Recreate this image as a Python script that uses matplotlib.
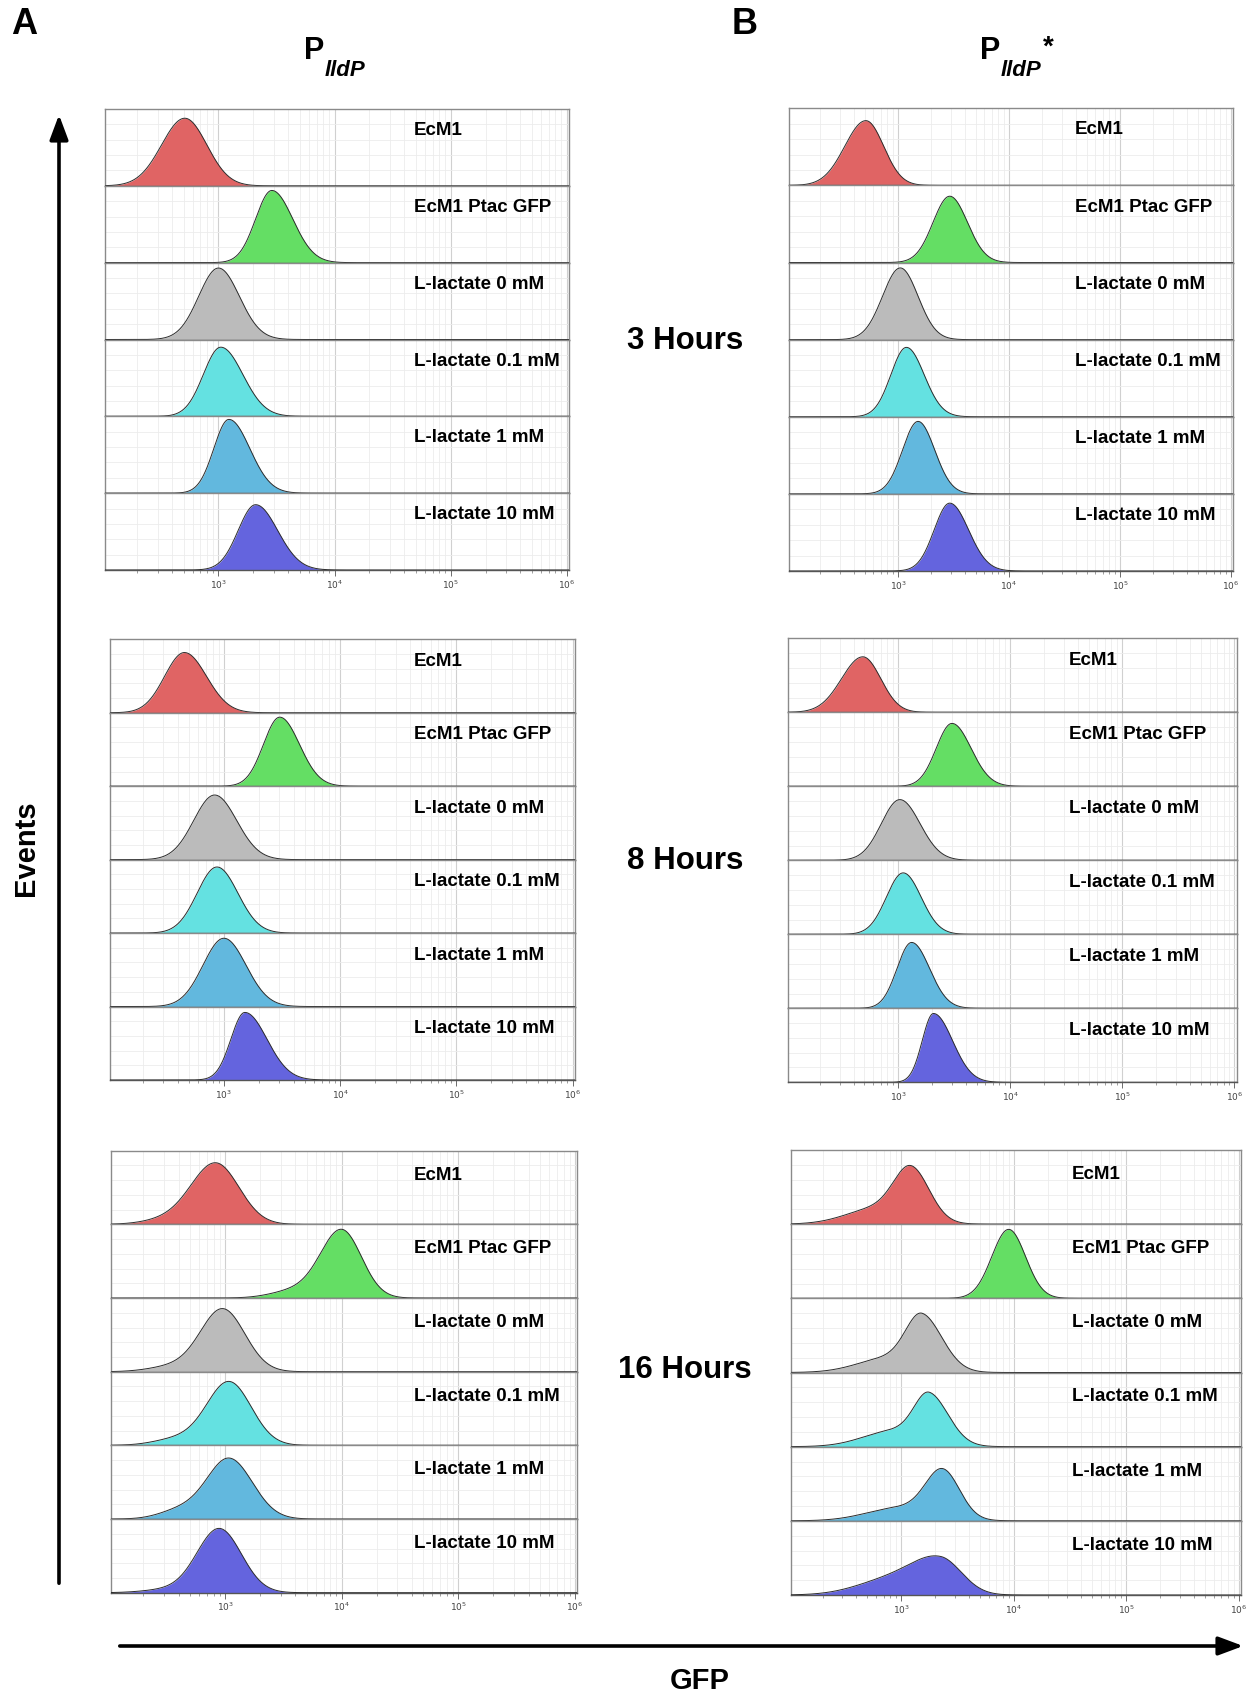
import numpy as np
import matplotlib
matplotlib.use("Agg")
import matplotlib.pyplot as plt
from matplotlib.patches import FancyArrowPatch
from matplotlib.ticker import LogLocator, NullFormatter, FixedLocator

plt.rcParams['font.family'] = ['Liberation Sans', 'DejaVu Sans']

# ---------------- data (log10 GFP) ----------------
strip_labels = ["EcM1", "EcM1 Ptac GFP", "L-lactate 0 mM",
                "L-lactate 0.1 mM", "L-lactate 1 mM", "L-lactate 10 mM"]
strip_colors = ["#e06464", "#64de64", "#bbbbbb", "#64e1e1", "#62b8de", "#6464de"]
time_labels = ["3 Hours", "8 Hours", "16 Hours"]
tick_decades = [3, 4, 5, 6]

# rows = 3 h, 8 h, 16 h ; columns = the six strains/conditions
peak_pos_A = [[2.71, 3.46, 3.00, 3.02, 3.09, 3.32],
              [2.66, 3.48, 2.92, 2.94, 3.00, 3.18],
              [2.92, 4.00, 2.98, 3.035, 3.035, 2.95]]
peak_pos_B = [[2.71, 3.465, 3.02, 3.075, 3.18, 3.465],
              [2.685, 3.48, 3.015, 3.045, 3.12, 3.315],
              [3.09, 3.955, 3.185, 3.25, 3.37, 3.35]]

spread_left_A = [[0.20, 0.14, 0.17, 0.15, 0.13, 0.15],
                 [0.17, 0.14, 0.18, 0.17, 0.18, 0.12],
                 [0.21, 0.18, 0.19, 0.19, 0.19, 0.19]]
spread_left_B = [[0.19, 0.15, 0.16, 0.14, 0.14, 0.14],
                 [0.19, 0.14, 0.165, 0.15, 0.13, 0.10],
                 [0.15, 0.15, 0.14, 0.13, 0.15, 0.25]]

spread_right_A = [[0.19, 0.18, 0.18, 0.19, 0.18, 0.19],
                  [0.19, 0.17, 0.19, 0.18, 0.19, 0.19],
                  [0.20, 0.17, 0.19, 0.19, 0.20, 0.19]]
spread_right_B = [[0.16, 0.16, 0.16, 0.16, 0.15, 0.17],
                  [0.16, 0.17, 0.18, 0.16, 0.16, 0.17],
                  [0.16, 0.15, 0.18, 0.17, 0.15, 0.19]]

peak_height_A = [[0.88, 0.94, 0.93, 0.90, 0.96, 0.85],
                 [0.82, 0.94, 0.88, 0.90, 0.93, 0.92],
                 [0.83, 0.92, 0.85, 0.86, 0.82, 0.87]]
peak_height_B = [[0.84, 0.86, 0.93, 0.90, 0.94, 0.88],
                 [0.75, 0.85, 0.82, 0.83, 0.89, 0.93],
                 [0.66, 0.93, 0.68, 0.61, 0.62, 0.455]]

# low-GFP shoulder (16 h populations): position, spread, height
shoulder_pos_A = [2.50, 3.60, 2.55, 2.60, 2.62, 2.50]
shoulder_sd_A = [0.20, 0.20, 0.20, 0.20, 0.18, 0.20]
shoulder_h_A = [0.06, 0.10, 0.07, 0.09, 0.12, 0.04]
shoulder_pos_B = [2.80, 3.75, 2.90, 2.95, 3.00, 2.90]
shoulder_sd_B = [0.28, 0.15, 0.28, 0.28, 0.30, 0.30]
shoulder_h_B = [0.22, 0.00, 0.20, 0.22, 0.18, 0.20]

# ---------------- layout (pixels: left, top, right, bottom) ----------------
W, H = 1247, 1695
boxes_A = [(104.7, 109, 569, 570), (110, 639.3, 575, 1080), (110.7, 1150.7, 577.3, 1592.7)]
boxes_B = [(789.3, 108.3, 1233.3, 571), (788.3, 638.3, 1236.7, 1082.3), (791, 1150, 1241, 1595)]
label_x_A = [0.666, 0.654, 0.650]
label_x_B = [0.643, 0.625, 0.624]
label_y = [0.72, 0.70, 0.67]
hour_y = [341, 861, 1370]
XLO, XHI = 2.02, 6.02

fig = plt.figure(figsize=(W / 100, H / 100), dpi=100)

lx = np.linspace(XLO, XHI, 1200)
xs = 10 ** lx


def histo(mu, sl, sr, h, smu, ssd, sh):
    s = np.where(lx < mu, sl, sr)
    y = h * np.exp(-0.5 * ((lx - mu) / s) ** 2)
    if sh > 0:
        y = y + sh * np.exp(-0.5 * ((lx - smu) / ssd) ** 2)
    return y


def draw_panel(box, pos, sl, sr, hh, spos, ssd, sh, lab_x, lab_y):
    left, top, right, bottom = box
    sh_px = (bottom - top) / 6
    for i in range(6):
        y_top = top + i * sh_px
        ax = fig.add_axes([left / W, 1 - (y_top + sh_px) / H, (right - left) / W, sh_px / H])
        ax.set_xscale('log')
        ax.set_xlim(10 ** XLO, 10 ** XHI)
        ax.set_ylim(0, 1)
        ax.set_axisbelow(True)
        ax.xaxis.set_major_locator(FixedLocator([10.0 ** k for k in range(2, 7)]))
        ax.xaxis.set_minor_locator(LogLocator(base=10, subs=np.arange(2, 10), numticks=20))
        ax.xaxis.set_minor_formatter(NullFormatter())
        ax.set_yticks([0.2, 0.4, 0.6, 0.8])
        ax.grid(which='major', axis='x', color='#d0d0d0', lw=0.8)
        ax.grid(which='minor', axis='x', color='#ececec', lw=0.6)
        ax.grid(which='major', axis='y', color='#ececec', lw=0.6)
        ax.tick_params(axis='y', left=False, labelleft=False)

        y = histo(pos[i], sl[i], sr[i], hh[i], spos[i], ssd[i], sh[i])
        ax.fill_between(xs, 0, y, color=strip_colors[i], lw=0, zorder=2)
        ax.plot(xs, y, color='#2b2b2b', lw=0.7, zorder=3)
        ax.text(lab_x, lab_y, strip_labels[i], transform=ax.transAxes,
                fontsize=13.5, fontweight='bold', va='center', ha='left', zorder=4)

        for s in ['left', 'right', 'top']:
            ax.spines[s].set_color('#8a8a8a')
            ax.spines[s].set_linewidth(1.0)
        ax.spines['bottom'].set_color('#555555')
        ax.spines['bottom'].set_linewidth(1.0)

        if i == 5:
            ax.set_xticks([10.0 ** k for k in tick_decades])
            ax.set_xticklabels([r"$10^{%d}$" % k for k in tick_decades])
            ax.tick_params(axis='x', which='major', direction='out', length=4,
                           width=0.6, color='#555555', labelsize=6.5,
                           labelcolor='#444444', pad=2)
            ax.tick_params(axis='x', which='minor', direction='out', length=2.5,
                           width=0.5, color='#777777')
        else:
            ax.tick_params(axis='x', which='both', bottom=False, labelbottom=False)


for r in range(3):
    draw_panel(boxes_A[r], peak_pos_A[r], spread_left_A[r], spread_right_A[r],
               peak_height_A[r],
               shoulder_pos_A if r == 2 else [0] * 6, shoulder_sd_A,
               shoulder_h_A if r == 2 else [0] * 6,
               label_x_A[r], label_y[r])
    draw_panel(boxes_B[r], peak_pos_B[r], spread_left_B[r], spread_right_B[r],
               peak_height_B[r],
               shoulder_pos_B if r == 2 else [0] * 6, shoulder_sd_B,
               shoulder_h_B if r == 2 else [0] * 6,
               label_x_B[r], label_y[r])
    fig.text(685 / W, 1 - hour_y[r] / H, time_labels[r], fontsize=22.5,
             fontweight='bold', ha='center', va='center')

# panel letters and promoter titles
fig.text(24 / W, 1 - 24 / H, "A", fontsize=26, fontweight='bold', ha='center', va='center')
fig.text(745 / W, 1 - 24 / H, "B", fontsize=26, fontweight='bold', ha='center', va='center')
fig.text(314 / W, 1 - 51 / H, "P", fontsize=22, fontweight='bold', ha='center', va='center')
fig.text(325 / W, 1 - 71 / H, "lldP", fontsize=16, fontweight='bold', style='italic',
         ha='left', va='center')
fig.text(990 / W, 1 - 51 / H, "P", fontsize=22, fontweight='bold', ha='center', va='center')
fig.text(1001 / W, 1 - 71 / H, "lldP", fontsize=16, fontweight='bold', style='italic',
         ha='left', va='center')
fig.text(1048 / W, 1 - 48 / H, "*", fontsize=20, fontweight='bold', ha='center', va='center')

# axis arrows
fig.add_artist(FancyArrowPatch((59 / W, 1 - 1586 / H), (59 / W, 1 - 112 / H),
                               transform=fig.transFigure,
                               arrowstyle='-|>,head_length=0.75,head_width=0.28',
                               mutation_scale=20, lw=2.6, color='black'))
fig.add_artist(FancyArrowPatch((117 / W, 1 - 1646 / H), (1246 / W, 1 - 1646 / H),
                               transform=fig.transFigure,
                               arrowstyle='-|>,head_length=0.75,head_width=0.28',
                               mutation_scale=20, lw=2.6, color='black'))
fig.text(26 / W, 1 - 848 / H, "Events", fontsize=21, fontweight='bold',
         rotation=90, ha='center', va='center')
fig.text(700 / W, 1 - 1681 / H, "GFP", fontsize=21, fontweight='bold',
         ha='center', va='center')

fig.savefig("out.png", dpi=100, facecolor='white')
